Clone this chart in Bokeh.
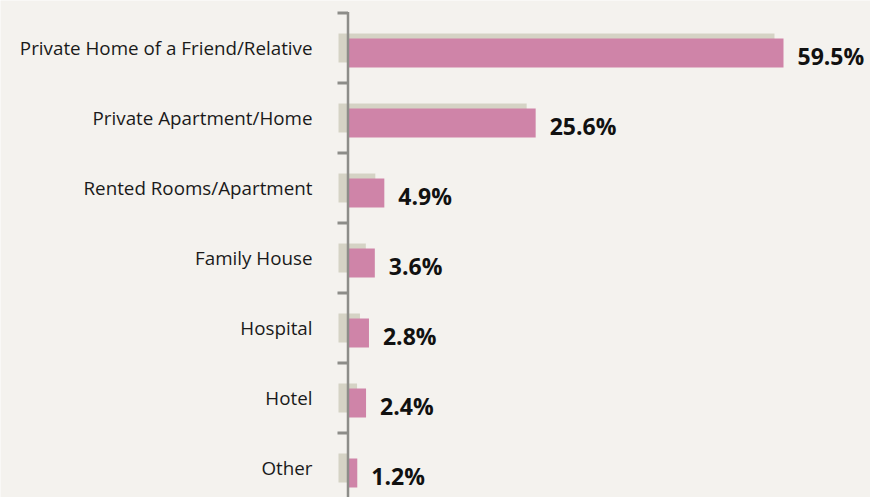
import numpy as np
from bokeh.plotting import figure
from bokeh.models import Range1d, ColumnDataSource
from bokeh.embed import file_html
from bokeh.resources import INLINE
from bokeh.core.properties import value

# ---- data ----
categories = [
    "Private Home of a Friend/Relative",
    "Private Apartment/Home",
    "Rented Rooms/Apartment",
    "Family House",
    "Hospital",
    "Hotel",
    "Other",
]
shares = [59.5, 25.6, 4.9, 3.6, 2.8, 2.4, 1.2]
value_labels = ["59.5%", "25.6%", "4.9%", "3.6%", "2.8%", "2.4%", "1.2%"]

# ---- style / layout ----
BG = "#f4f2ee"
PINK = "#cf84a8"
SHADOW = "#d5d3c5"
AXIS = "#8d8d89"

W, H = 870, 497
PX = 7.311      # pixels per percentage point
X0 = 348        # figure x of zero
ROW = 70        # pixels per row
Y0 = 52.5       # figure y of first bar centre


def dx(px):
    return px / PX


def dy(px):
    return px / ROW


rows = np.arange(len(categories), dtype=float)
vals = np.array(shares)

p = figure(
    width=W, height=H, output_backend="svg", toolbar_location=None,
    x_range=Range1d(-X0 / PX, (W - X0) / PX),
    y_range=Range1d((H - Y0) / ROW, -Y0 / ROW),
    x_axis_type=None, y_axis_type=None, min_border=0,
    background_fill_color=BG, border_fill_color=BG, outline_line_color=None,
)
p.grid.visible = False

src = ColumnDataSource(dict(
    y=rows, val=vals, cat=categories, lab=value_labels,
    sy=rows - dy(5), sright=vals - dx(9), ly=rows + dy(3), lx=vals + dx(14),
))

# shadow bars
p.hbar(y="sy", left=-dx(10), right="sright", height=dy(29), source=src,
       fill_color=SHADOW, line_color=None)
# main bars
p.hbar(y="y", left=0, right="val", height=dy(29), source=src,
       fill_color=PINK, line_color=None)

# axis line and ticks (category boundaries)
bounds = np.arange(len(categories) + 1) - 0.5 - dy(5)
p.segment(x0=[-dx(0.5)], y0=[bounds[0] - dy(1)], x1=[-dx(0.5)], y1=[bounds[-1] + 1],
          line_color=AXIS, line_width=2.5)
p.segment(x0=-dx(11), y0=bounds, x1=-dx(0.5), y1=bounds,
          line_color=AXIS, line_width=3)

# category labels
p.text(x=-dx(36), y="sy", text="cat", source=src,
       text_align="right", text_baseline="middle",
       text_font=value("Open Sans"), text_font_size="18.8px", text_color="#1a1a1a")

# value labels
p.text(x="lx", y="ly", text="lab", source=src,
       text_align="left", text_baseline="middle",
       text_font=value("Open Sans"), text_font_style="bold",
       text_font_size="23px", text_color="#111111")

html = file_html(p, INLINE, title="Accommodation")
html = html.replace("<body>", '<body style="background-color:%s;">' % BG, 1)
open("out.html", "w").write(html)
